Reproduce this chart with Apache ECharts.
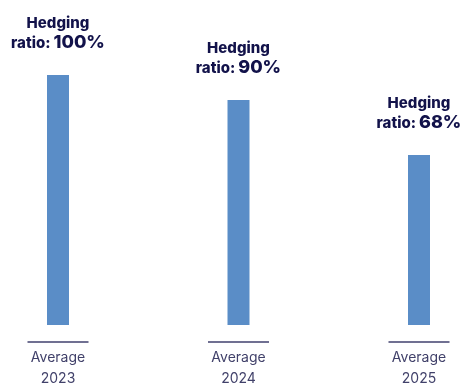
<!DOCTYPE html>
<html>
<head>
<meta charset="utf-8">
<script src="https://cdn.jsdelivr.net/npm/echarts@6/dist/echarts.min.js"></script>
<style>html,body{margin:0;padding:0;background:#fff}#c{width:461px;height:385px}</style>
</head>
<body>
<div id="c"></div>
<script>
var years = ['2023', '2024', '2025'];
var categoryPrefix = 'Average';
var hedgingRatios = [100, 90, 68];
var underlineLevel = [-6.8, -6.8, -6.8];

var chart = echarts.init(document.getElementById('c'), null, {renderer: 'canvas'});
var navy = '#12124a';
chart.setOption({
  animation: false,
  grid: {left: 58, right: 42, top: 75, bottom: 60, outerBoundsMode: 'none', containLabel: false},
  xAxis: {
    type: 'category',
    data: years,
    boundaryGap: false,
    axisLine: {show: false},
    axisTick: {show: false},
    axisLabel: {
      margin: 22,
      interval: 0,
      formatter: function (v) { return '{t|' + categoryPrefix + '}\n{t|' + v + '}'; },
      rich: {t: {fontFamily: 'Inter', fontSize: 14, color: '#41416a', lineHeight: 21}}
    }
  },
  yAxis: {type: 'value', min: 0, max: 100, show: false, splitLine: {show: false}},
  series: [
    {
      type: 'bar',
      data: hedgingRatios,
      barWidth: 22,
      itemStyle: {color: '#5a8dc7'},
      label: {
        show: true,
        position: 'top',
        distance: 22,
        formatter: function (p) { return '{a|Hedging}\n{b|ratio:}{c|' + p.value + '%}'; },
        rich: {
          a: {fontFamily: 'Inter', fontWeight: 800, fontSize: 15, color: navy, lineHeight: 20, align: 'center'},
          b: {fontFamily: 'Inter', fontWeight: 800, fontSize: 15, color: navy, lineHeight: 20, padding: [0, 3, 0, 0]},
          c: {fontFamily: 'Inter', fontWeight: 800, fontSize: 18, color: navy, lineHeight: 20}
        }
      }
    },
    {
      type: 'scatter',
      data: underlineLevel,
      clip: false,
      symbol: 'rect',
      symbolSize: [61, 1.5],
      itemStyle: {color: navy},
      silent: true
    }
  ]
});
</script>
</body>
</html>
